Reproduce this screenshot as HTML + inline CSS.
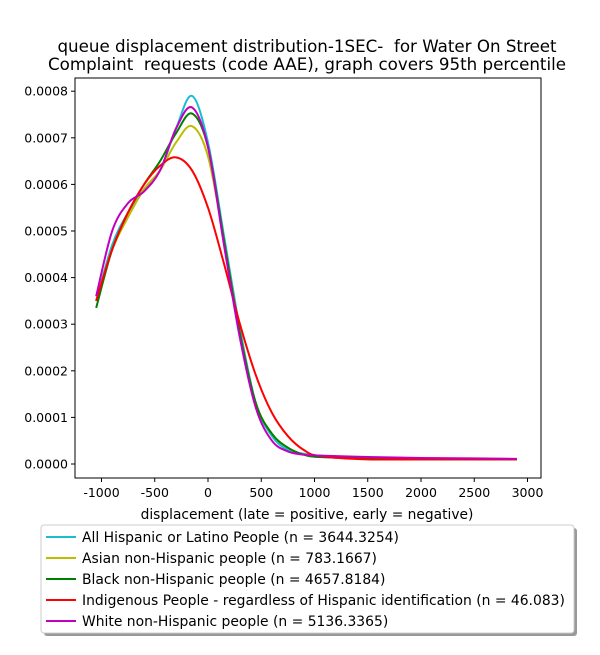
<!DOCTYPE html>
<html><head><meta charset="utf-8"><style>body{margin:0;background:#fff}svg{font-family:"DejaVu Sans","Liberation Sans",sans-serif}text{white-space:pre}</style></head>
<body>
<svg width="600" height="650" xmlns="http://www.w3.org/2000/svg">
<g id="g"></g>
</svg>
<script>
const xs=[-1050,-900,-750,-600,-450,-300,-150,0,150,300,450,600,750,900,1050,1500,2000,2500,2900];
const cyan=[0.00035,0.00047,0.00054,0.00059,0.00063,0.00072,0.00079,0.00069,0.00049,0.00029,0.00013,0.00006,0.00003,0.000022,0.000018,0.000014,0.000012,0.000011,0.00001];
const yellow=[0.00035,0.00046,0.00053,0.00059,0.00063,0.00069,0.000725,0.00066,0.00048,0.00028,0.00013,0.000065,0.000035,0.00002,0.000015,0.000012,0.00001,0.00001,0.00001];
const green=[0.000335,0.00046,0.00054,0.0006,0.00065,0.00071,0.000752,0.00068,0.00048,0.00028,0.00013,0.000065,0.000035,0.00002,0.000015,0.000012,0.00001,0.00001,0.00001];
const red=[0.00035,0.00046,0.00054,0.0006,0.00064,0.000658,0.00063,0.00055,0.00043,0.0003,0.00019,0.00011,0.00006,0.00003,0.000017,0.00001,0.00001,0.00001,0.00001];
const purple=[0.00036,0.0005,0.00056,0.000585,0.00063,0.00072,0.000765,0.00068,0.00047,0.00027,0.00012,0.00005,0.000027,0.00002,0.000018,0.000015,0.000013,0.000012,0.000011];
const xTicks=[-1000,-500,0,500,1000,1500,2000,2500,3000];
const yTicks=[0,0.0001,0.0002,0.0003,0.0004,0.0005,0.0006,0.0007,0.0008];
const names=["All Hispanic or Latino People (n = 3644.3254)","Asian non-Hispanic people (n = 783.1667)","Black non-Hispanic people (n = 4657.8184)","Indigenous People - regardless of Hispanic identification (n = 46.083)","White non-Hispanic people (n = 5136.3365)"];
const series=[cyan,yellow,green,red,purple];
const colors=["#17becf","#bcbd00","#008000","#ff0000","#bf00bf"];
const X=v=>208+v*0.1065, Y=v=>464-v*466000;
const g=document.getElementById('g');const NS="http://www.w3.org/2000/svg";
function el(t,a,txt){const e=document.createElementNS(NS,t);for(const k in a)e.setAttribute(k,a[k]);if(txt!=null)e.textContent=txt;g.appendChild(e);return e;}
let e;
e=el('text',{x:307,y:52,'text-anchor':'middle','font-size':16.7},'queue displacement distribution-1SEC-  for Water On Street');

e=el('text',{x:307,y:70,'text-anchor':'middle','font-size':16.7},'Complaint  requests (code AAE), graph covers 95th percentile');

xTicks.forEach(t=>{el('line',{x1:X(t),x2:X(t),y1:478,y2:482,stroke:'#000'});
e=el('text',{x:X(t),y:497,'text-anchor':'middle','font-size':12.5},String(t));
});
yTicks.forEach(t=>{el('line',{x1:71,x2:75,y1:Y(t),y2:Y(t),stroke:'#000'});
e=el('text',{x:68,y:Y(t)+4.5,'text-anchor':'end','font-size':12.5},t.toFixed(4));
});
e=el('text',{x:307,y:519,'text-anchor':'middle','font-size':13.8},'displacement (late = positive, early = negative)');

function path(arr){const p=xs.map((x,i)=>[X(x),Y(arr[i])]);let d=`M${p[0][0]},${p[0][1]}`;
for(let i=0;i<p.length-1;i++){const p0=p[Math.max(0,i-1)],p1=p[i],p2=p[i+1],p3=p[Math.min(p.length-1,i+2)];
d+=` C${p1[0]+(p2[0]-p0[0])/6},${p1[1]+(p2[1]-p0[1])/6} ${p2[0]-(p3[0]-p1[0])/6},${p2[1]-(p3[1]-p1[1])/6} ${p2[0]},${p2[1]}`;}return d;}
series.forEach((s,i)=>{e=el('path',{d:path(s),fill:'none',stroke:colors[i],'stroke-width':2});
});
e=el('rect',{x:75,y:78,width:466,height:400,fill:'none',stroke:'#000','stroke-width':1});

el('rect',{x:44,y:528,width:533,height:108,fill:'#999',rx:3});
e=el('rect',{x:41,y:525,width:533,height:108,fill:'#fff',stroke:'#ccc',rx:3});

names.forEach((n,i)=>{const y=537+i*21;el('line',{x1:46,x2:76,y1:y,y2:y,stroke:colors[i],'stroke-width':2});
e=el('text',{x:82,y:y+4.8,'font-size':13.9},n);
});
</script>
</body></html>
